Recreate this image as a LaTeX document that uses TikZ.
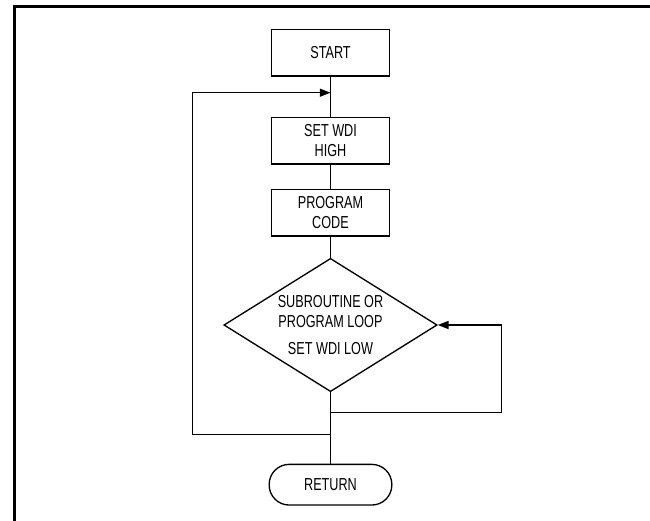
\documentclass[tikz,border=0pt]{standalone}
\usepackage{fontspec}
\setmainfont[FakeStretch=0.73]{Liberation Sans}
\usetikzlibrary{shapes.geometric,arrows.meta}
\begin{document}
\begin{tikzpicture}[x=0.75pt,y=-0.75pt,
  every node/.style={font=\fontsize{13}{15}\selectfont, align=center},
  procbox/.style={draw, line width=1pt, minimum width=88.5pt, minimum height=35pt, inner sep=0pt},
  decbox/.style={draw, line width=1pt, diamond, aspect=1.6, inner sep=0pt, minimum width=160pt, minimum height=100pt},
  termbox/.style={draw, line width=1pt, rounded corners=15pt, minimum width=92pt, minimum height=30.5pt, inner sep=0pt},
  conn/.style={line width=1pt},
  tip/.style={-{Triangle[length=8pt,width=6pt]}}]
\useasboundingbox (0,0) rectangle (650,521);
\draw[line width=1.6pt] (14.5,521) -- (14.5,6.5) -- (650,6.5);
\node[procbox] (start) at (330.5,52.7) {START};
\node[procbox] (wdi) at (330.5,140.5) {SET WDI\\HIGH};
\node[procbox] (prog) at (330.5,212.5) {PROGRAM\\CODE};
\node[decbox] (dia) at (330.5,325) {SUBROUTINE OR\\PROGRAM LOOP\\[5pt]SET WDI LOW};
\node[termbox] (ret) at (330.5,484.7) {RETURN};
\coordinate (jtop) at (330.5,92.7);
\coordinate (jr) at (330.5,412.7);
\coordinate (jl) at (330.5,434.3);
\coordinate (lc) at (192.7,434.3);
\coordinate (lt) at (192.7,92.7);
\coordinate (rb) at (501.7,412.7);
\coordinate (rt) at (501.7,325);
\draw[conn] (start.south) -- (wdi.north);
\draw[conn] (wdi.south) -- (prog.north);
\draw[conn] (prog.south) -- (dia.north);
\draw[conn] (dia.south) -- (ret.north);
\draw[conn,tip] (jl) -- (lc) -- (lt) -- (jtop);
\draw[conn,tip] (jr) -- (rb) -- (rt) -- (dia.east);
\end{tikzpicture}
\end{document}
